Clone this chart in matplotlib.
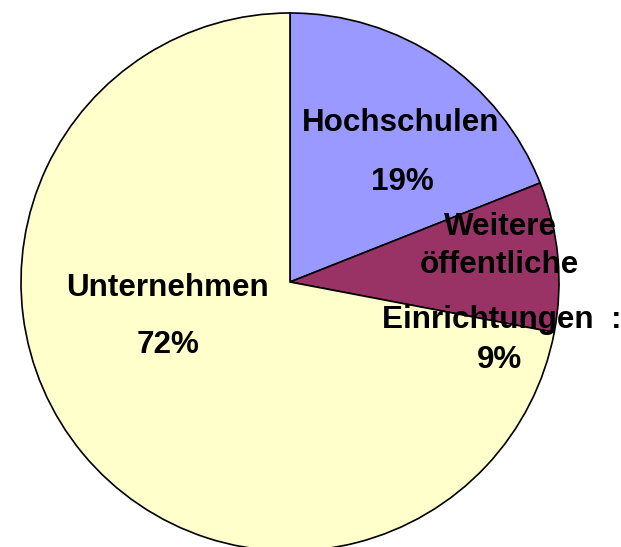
import matplotlib.pyplot as plt

# Anteile (Prozent), Start oben, im Uhrzeigersinn
categories = ["Hochschulen", "Weitere öffentliche Einrichtungen", "Unternehmen"]
shares = [19, 9, 72]
colors = ["#9999FF", "#993366", "#FFFFCC"]

# Beschriftungszeilen je Segment
label_lines = [
    ["Hochschulen", "19%"],
    ["Weitere", "öffentliche", "Einrichtungen  :", "9%"],
    ["Unternehmen", "72%"],
]
# Position der Zeilen (x-Mitte, Grundlinie in Pixel von oben)
label_pos = [
    [(401, 131), (402, 190)],
    [(500, 235), (499, 273), (502, 328), (499, 368)],
    [(168, 296), (168, 353)],
]

W, H = 621, 547
fig = plt.figure(figsize=(W / 100, H / 100), dpi=100)
ax = fig.add_axes([0, 0, 1, 1])

ax.pie(
    shares,
    colors=colors,
    startangle=90,
    counterclock=False,
    center=(290, H - 282),
    radius=269,
    wedgeprops={"edgecolor": "black", "linewidth": 1.2},
    frame=True,
)
ax.set_xlim(0, W)
ax.set_ylim(0, H)
ax.set_aspect("equal")
ax.axis("off")

for lines, pos in zip(label_lines, label_pos):
    for txt, (x, y) in zip(lines, pos):
        ax.text(x, H - y, txt, ha="center", va="baseline",
                fontsize=22.6, fontweight="bold", family="Liberation Sans",
                color="black")

fig.savefig("out.png", dpi=100)
